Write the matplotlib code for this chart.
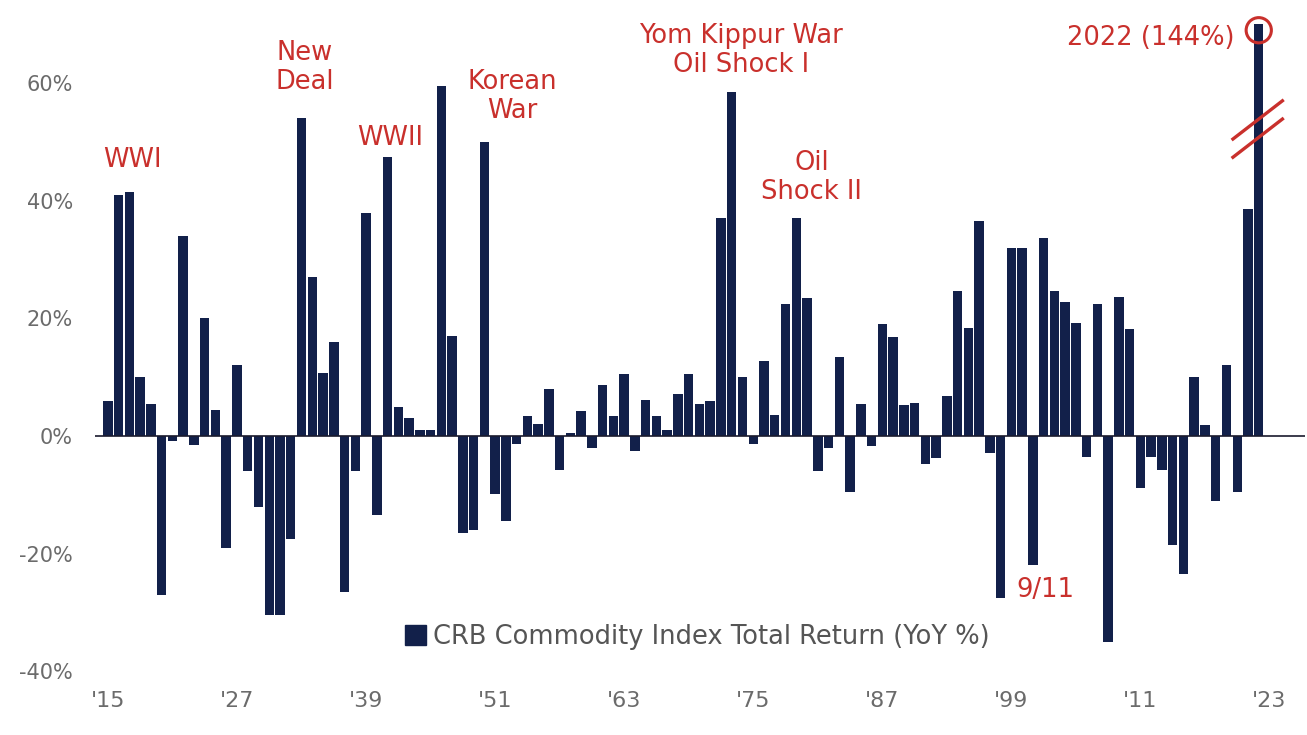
import numpy as np
import matplotlib.pyplot as plt
from matplotlib.patches import Patch

# CRB Commodity Index total return, YoY %, one value per year 1915-2022
years = list(range(1915, 2023))
returns = [
    6, 41, 41.5, 10, 5.4, -27, -0.8, 34, -1.5, 20,          # 1915-1924
    4.4, -19, 12, -6, -12, -30.5, -30.5, -17.5, 54, 27,     # 1925-1934
    10.7, 16, -26.5, -6, 38, -13.5, 47.5, 5, 3, 1,          # 1935-1944
    1, 59.5, 17, -16.5, -16, 50, -9.8, -14.5, -1.3, 3.4,    # 1945-1954
    2, 8, -5.7, 0.5, 4.2, -2, 8.7, 3.4, 10.5, -2.5,         # 1955-1964
    6.2, 3.4, 1, 7.2, 10.5, 5.5, 6, 37, 58.5, 10,           # 1965-1974
    -1.3, 12.8, 3.5, 22.5, 37, 23.5, -6, -2, 13.4, -9.6,    # 1975-1984
    5.5, -1.7, 19, 16.8, 5.2, 5.6, -4.7, -3.7, 6.8, 24.7,   # 1985-1994
    18.3, 36.5, -2.9, -27.5, 32, 32, -22, 33.6, 24.6, 22.8, # 1995-2004
    19.2, -3.6, 22.5, -35, 23.6, 18.2, -8.9, -3.6, -5.7, -18.6,  # 2005-2014
    -23.5, 10, 1.8, -11, 12.1, -9.6, 38.6, 144,             # 2015-2022
]
axis_cap = 70  # the 2022 bar is cut at the top of the axis

tick_years = list(range(1915, 2024, 12))
tick_labels = ["'" + str(y)[2:] for y in tick_years]
y_ticks = [-40, -20, 0, 20, 40, 60]

events = [
    ("WWI", 1917.3, 46.9),
    ("New\nDeal", 1933.3, 62.6),
    ("WWII", 1941.2, 50.7),
    ("Korean\nWar", 1952.6, 57.7),
    ("Yom Kippur War\nOil Shock I", 1973.9, 65.6),
    ("Oil\nShock II", 1980.4, 44.0),
]

navy = '#12204a'
red = '#c9302c'
grey = '#6b6b6b'

fig = plt.figure(figsize=(13.07, 7.35), dpi=100)
ax = fig.add_axes([95 / 1307, 1 - 683 / 735, 1210 / 1307, (683 - 12.6) / 735])

shown = np.minimum(returns, axis_cap)
ax.bar(years, shown, width=0.88, color=navy, zorder=2)
ax.axhline(0, color='#1a1a2e', lw=1.2, zorder=3)

ax.set_xlim(1913.8, 2026.3)
ax.set_ylim(-42, 72)
ax.set_xticks(tick_years)
ax.set_xticklabels(tick_labels, fontsize=16, color=grey)
ax.set_yticks(y_ticks)
ax.set_yticklabels([f"{v}%" for v in y_ticks], fontsize=15, color=grey)
ax.tick_params(length=0)
ax.tick_params(axis='y', pad=16)
ax.tick_params(axis='x', pad=6)
for s in ax.spines.values():
    s.set_visible(False)

# event labels
for txt, x, y in events:
    ax.text(x, y, txt, color=red, fontsize=18.5, ha='center', va='center',
            linespacing=1.15)
ax.text(1999.5, -26.2, "9/11", color=red, fontsize=18.5, ha='left', va='center')

# 2022 call-out: circle on the bar top, label and axis-break marks
ax.text(2019.7, 67.7, "2022 (144%)", color=red, fontsize=18.5, ha='right', va='center')
ax.scatter([years[-1]], [69], s=330, facecolors='none', edgecolors=red,
           linewidths=2.2, zorder=4, clip_on=False)
ax.plot([2019.6, 2024.2], [50.5, 57.0], color=red, lw=2.4, zorder=4)
ax.plot([2019.6, 2024.2], [47.4, 53.9], color=red, lw=2.4, zorder=4)

fig.legend(handles=[Patch(color=navy, label='CRB Commodity Index Total Return (YoY %)')],
           loc='center left', bbox_to_anchor=(405 / 1307, 1 - 637 / 735),
           frameon=False, handlelength=0.8, handleheight=0.8, handletextpad=0.3,
           fontsize=18.5, labelcolor='#555555', borderaxespad=0, borderpad=0)

fig.savefig('out.png', dpi=100, facecolor='white')
